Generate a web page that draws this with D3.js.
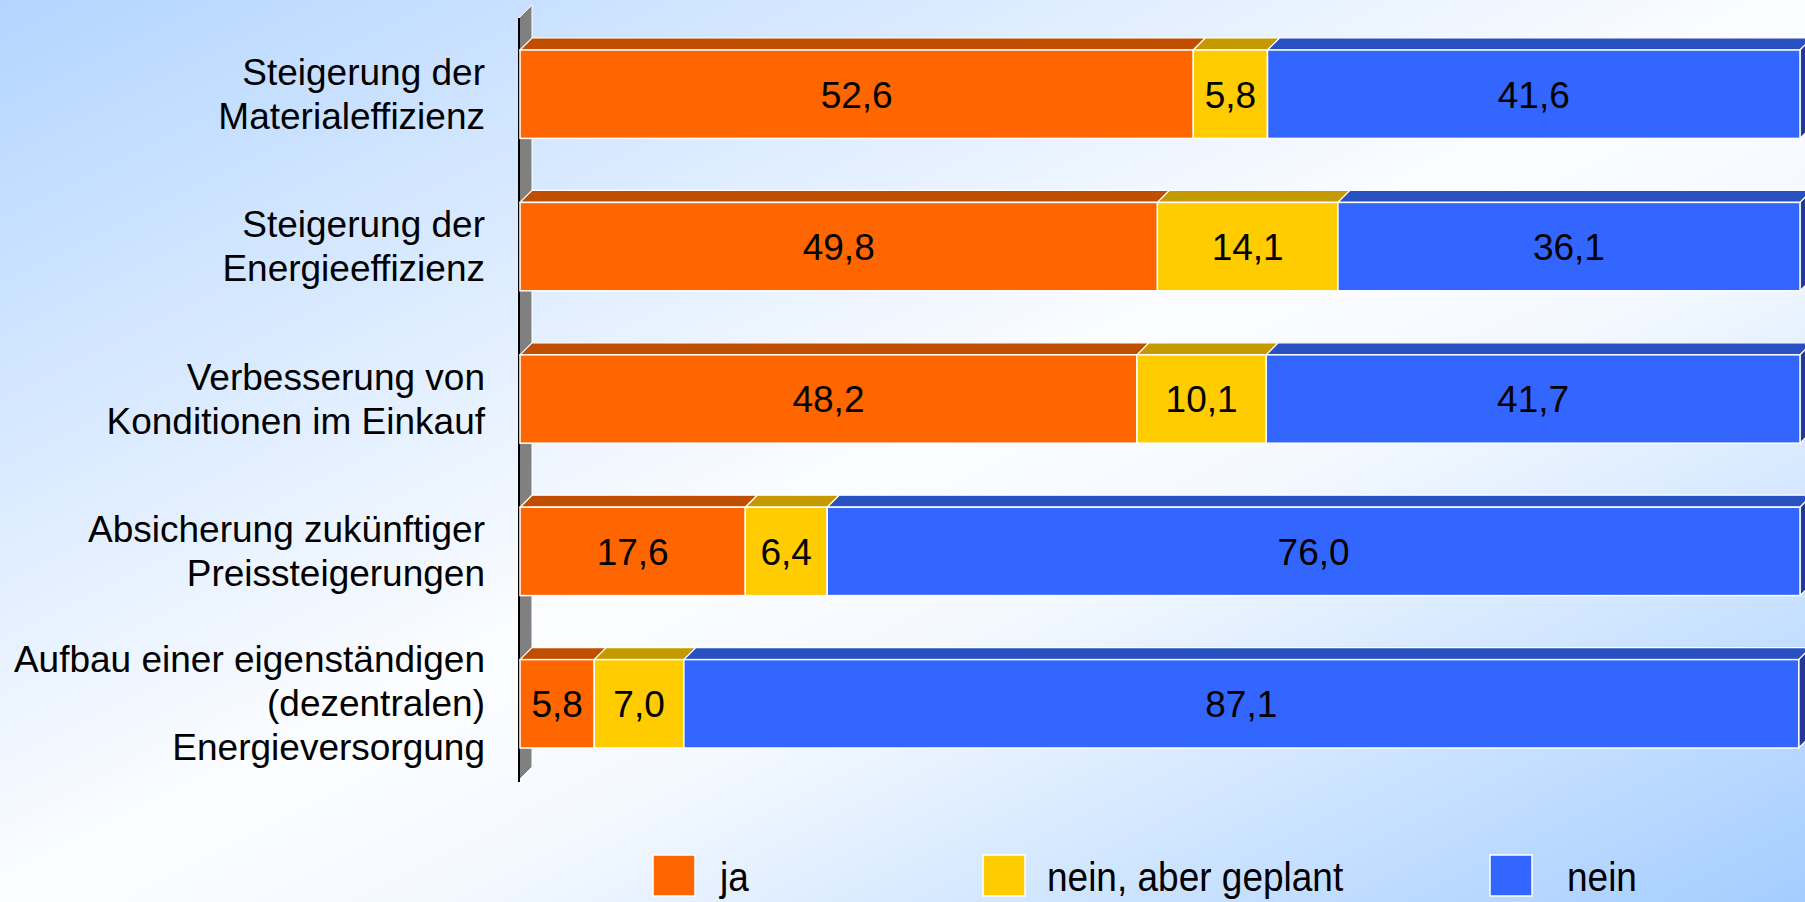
<!DOCTYPE html>
<html>
<head>
<meta charset="utf-8">
<script src="https://cdn.jsdelivr.net/npm/d3@7"></script>
<style>
html,body{margin:0;padding:0;overflow:hidden;}
svg{display:block;font-family:"Liberation Sans", Arial, Helvetica, sans-serif;}
</style>
</head>
<body>
<script>
const categories = [
  "Steigerung der\nMaterialeffizienz",
  "Steigerung der\nEnergieeffizienz",
  "Verbesserung von\nKonditionen im Einkauf",
  "Absicherung zukünftiger\nPreissteigerungen",
  "Aufbau einer eigenständigen\n(dezentralen)\nEnergieversorgung"
];
const seriesNames = ["ja", "nein, aber geplant", "nein"];
const ja = [52.6, 49.8, 48.2, 17.6, 5.8];
const geplant = [5.8, 14.1, 10.1, 6.4, 7.0];
const nein = [41.6, 36.1, 41.7, 76.0, 87.1];

const frontColors = ["#FF6600", "#FFCC00", "#3366FF"];
const topColors = ["#C04E00", "#C49A00", "#2850C0"];
const sideColor = "#1F3A99";

const W = 1805, H = 902;
const svg = d3.select("body").append("svg").attr("width", W).attr("height", H);

// background gradient
const defs = svg.append("defs");
const grad = defs.append("linearGradient").attr("id", "bg")
  .attr("x1", 0).attr("y1", 0).attr("x2", 1).attr("y2", 1);
[[0, "#b3d5ff"], [0.5, "#fcfdff"], [0.62, "#f4f9ff"], [1, "#a4cdff"]].forEach(s =>
  grad.append("stop").attr("offset", s[0]).attr("stop-color", s[1]));
svg.append("rect").attr("width", W).attr("height", H).attr("fill", "url(#bg)");

const DX = 12, DY = 12;
const plotTop = 18, plotBottom = 780, axisX = 519;

const x = d3.scaleLinear().domain([0, 100]).range([520, 1800]);
const y = d3.scaleBand().domain(categories).range([plotTop, plotBottom])
  .paddingInner(0.42).paddingOuter(0.21);

// left wall
svg.append("path")
  .attr("d", `M${axisX},${plotTop} L${axisX + 13},${plotTop - 13} L${axisX + 13},${plotBottom - 13} L${axisX},${plotBottom} Z`)
  .attr("fill", "#808080").attr("stroke", "#ffffff").attr("stroke-width", 1);
svg.append("line").attr("x1", axisX).attr("x2", axisX).attr("y1", plotTop).attr("y2", plotBottom + 2)
  .attr("stroke", "#000").attr("stroke-width", 2);

const series = [ja, geplant, nein];
const fmt = v => d3.format(".1f")(v).replace(".", ",");

categories.forEach((cat, i) => {
  const g = svg.append("g");
  const y0 = y(cat), bh = y.bandwidth();
  let cum = 0;
  const segs = series.map((s, k) => {
    const a = cum; cum += s[i];
    return {k, a, b: cum, v: s[i]};
  });
  // top faces
  segs.forEach(d => {
    const xa = x(d.a), xb = x(d.b);
    g.append("path")
      .attr("d", `M${xa},${y0} L${xa + DX},${y0 - DY} L${xb + DX},${y0 - DY} L${xb},${y0} Z`)
      .attr("fill", topColors[d.k]).attr("stroke", "#fff").attr("stroke-width", 1.2);
  });
  // side of last
  const last = segs[segs.length - 1];
  const xr = x(last.b);
  g.append("path")
    .attr("d", `M${xr},${y0} L${xr + DX},${y0 - DY} L${xr + DX},${y0 + bh - DY} L${xr},${y0 + bh} Z`)
    .attr("fill", sideColor).attr("stroke", "#fff").attr("stroke-width", 1.2);
  // fronts
  segs.forEach(d => {
    g.append("rect")
      .attr("x", x(d.a)).attr("y", y0).attr("width", x(d.b) - x(d.a)).attr("height", bh)
      .attr("fill", frontColors[d.k]).attr("stroke", "#fff").attr("stroke-width", 1.5);
  });
  // value labels
  segs.forEach(d => {
    g.append("text")
      .attr("x", (x(d.a) + x(d.b)) / 2).attr("y", y0 + bh / 2 + 0.36 * 37)
      .attr("text-anchor", "middle").attr("font-size", 37).attr("fill", "#000")
      .text(fmt(d.v));
  });
  // category labels
  const lines = cat.split("\n");
  const lh = 44;
  const cy = y0 + bh / 2;
  const t = svg.append("text").attr("text-anchor", "end").attr("font-size", 37).attr("fill", "#000");
  lines.forEach((ln, j) => {
    t.append("tspan").attr("x", 485)
      .attr("y", cy - (lines.length - 1) * lh / 2 + j * lh + 0.34 * 37)
      .text(ln);
  });
});

// legend
const legX = [653, 983, 1490];
const legT = [720, 1047, 1567];
seriesNames.forEach((n, k) => {
  svg.append("rect").attr("x", legX[k]).attr("y", 855).attr("width", 42).attr("height", 41)
    .attr("fill", frontColors[k]).attr("stroke", "#fff").attr("stroke-width", 1.5);
  svg.append("text").attr("transform", `translate(${legT[k]},891) scale(1,1.08)`)
    .attr("font-size", 37).attr("fill", "#000").text(n);
});
</script>
</body>
</html>
